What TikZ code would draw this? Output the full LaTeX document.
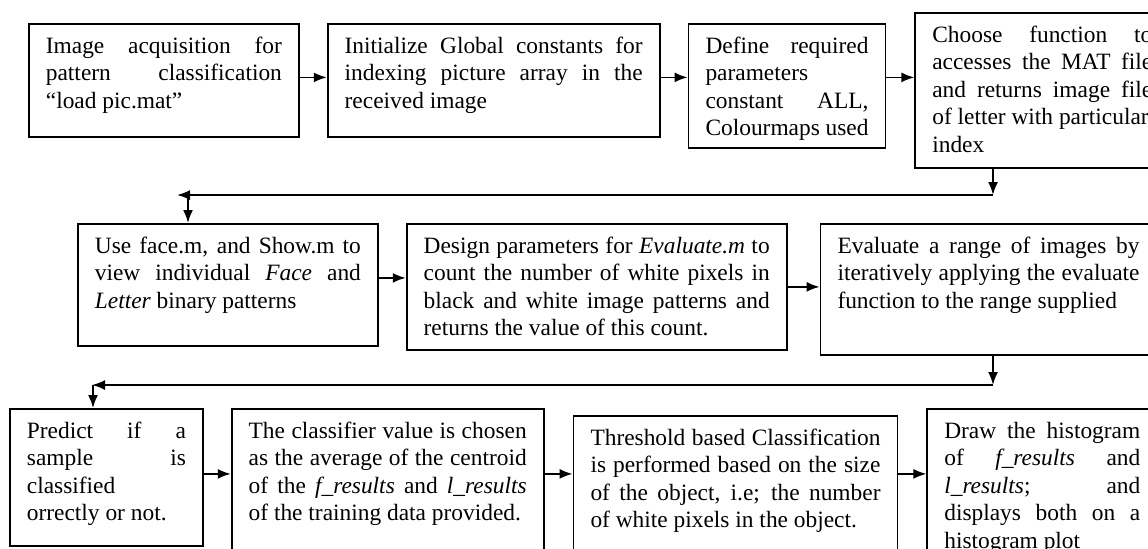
\documentclass[tikz,border=0pt]{standalone}
\usepackage{fontspec}
\setmainfont{Liberation Serif}
\usetikzlibrary{arrows.meta,positioning}

\newcommand{\stagetext}[3]{\parbox[c][#2][t]{#1}{\strut #3}}

\begin{document}
\begin{tikzpicture}[x=0.5pt,y=-0.5pt,>={Latex[length=6.5pt,width=5pt]},line width=0.9pt,node distance=13.5pt,
	stage/.style={draw,rectangle,inner xsep=8.5pt,inner ysep=5pt,font=\fontsize{11.7}{13.75}\selectfont}]
		\useasboundingbox (0,0) rectangle (1148,548);
		\clip (0,0) rectangle (1148,548);
		\node[stage,anchor=north west] (A) at (28,23) {\stagetext{118pt}{46.5pt}{Image acquisition for\linebreak pattern classification\linebreak ``load pic.mat''}};
		\node[stage] [right=of A.north east,anchor=north west] (B) {\stagetext{149pt}{46.5pt}{Initialize Global constants for\linebreak indexing picture array in the\linebreak received image}};
		\node[stage] [right=of B.north east,anchor=north west] (C) {\stagetext{81.5pt}{52pt}{Define required\linebreak parameters\\ constant ALL,\linebreak Colourmaps used}};
		\node[stage] [right=14pt of C.north east,anchor=north west,yshift=5.5pt] (D) {\stagetext{110pt}{67.5pt}{Choose function to\linebreak accesses the MAT file\linebreak and returns image file\linebreak of letter with particular\\ index}};
		\node[stage,anchor=north west] (E) at (77,223) {\stagetext{133pt}{51pt}{Use face.m, and Show.m to\linebreak view individual \textit{Face} and\linebreak \textit{Letter} binary patterns}};
		\node[stage] [right=of E.north east,anchor=north west] (F) {\stagetext{173pt}{53pt}{Design parameters for \textit{Evaluate.m} to\linebreak count the number of white pixels in\linebreak black and white image patterns and\linebreak returns the value of this count.}};
		\node[stage] [right=16pt of F.north east,anchor=north west] (G) {\stagetext{151pt}{55.5pt}{Evaluate a range of images by\linebreak iteratively applying the evaluate\linebreak function to the range supplied}};
		\node[stage,anchor=north west] (H) at (9,408) {\stagetext{79.5pt}{58.5pt}{Predict if a\linebreak sample is\linebreak classified\\ orrectly or not.}};
		\node[stage] [right=of H.north east,anchor=north west] (I) {\stagetext{139pt}{76pt}{The classifier value is chosen\linebreak as the average of the centroid\linebreak of the \textit{f\_results} and \textit{l\_results}\linebreak of the training data provided.}};
		\node[stage] [right=14pt of I.north east,anchor=north west,yshift=-3.5pt] (J) {\stagetext{145pt}{72.5pt}{Threshold based Classification\linebreak is performed based on the size\linebreak of the object, i.e; the number\linebreak of white pixels in the object.}};
		\node[stage] [right=14pt of J.north east,anchor=north west,yshift=3.5pt] (K) {\stagetext{98pt}{76pt}{Draw the histogram\linebreak of \textit{f\_results} and\linebreak \textit{l\_results}; and\linebreak displays both on a\linebreak histogram plot}};
		\coordinate (turnA) at (993,195);
		\coordinate (endA) at (177,195);
		\coordinate (dropA) at (188,195);
		\coordinate (turnB) at (993,385);
		\coordinate (endB) at (92,385);
		\coordinate (dropB) at (93,385);
		\draw[->] ([yshift=1.5pt]A.east) -- ([yshift=1.5pt]A.east -| B.west);
		\draw[->] ([yshift=1.5pt]B.east) -- ([yshift=1.5pt]B.east -| C.west);
		\draw[->] ([yshift=1.5pt]B.east -| C.east) -- ([yshift=1.5pt]B.east -| D.west);
		\draw[->] (turnA |- D.south) -- (turnA);
		\draw[->] (turnA) -- (endA);
		\draw[->] (dropA) -- (dropA |- E.north);
		\draw[->] ([yshift=3.5pt]E.east) -- ([yshift=3.5pt]E.east -| F.west);
		\draw[->] (F.east) -- (F.east -| G.west);
		\draw[->] (turnB |- G.south) -- (turnB);
		\draw[->] (turnB) -- (endB);
		\draw[->] (dropB) -- (dropB |- H.north);
		\draw[->] ([yshift=1.75pt]H.east) -- ([yshift=1.75pt]H.east -| I.west);
		\draw[->] ([yshift=1.75pt]H.east -| I.east) -- ([yshift=1.75pt]H.east -| J.west);
		\draw[->] ([yshift=1.75pt]H.east -| J.east) -- ([yshift=1.75pt]H.east -| K.west);
	\end{tikzpicture}
\end{document}
